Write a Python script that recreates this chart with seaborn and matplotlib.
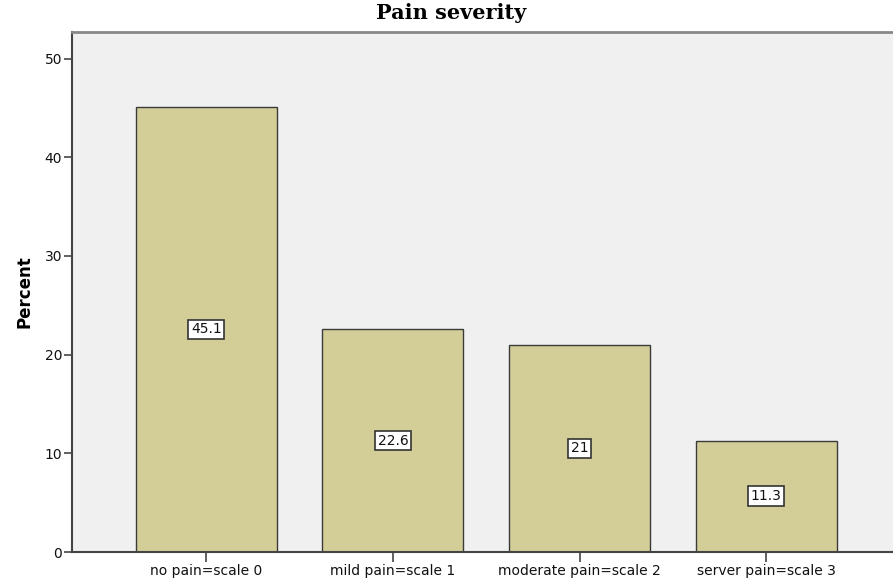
import matplotlib
matplotlib.use("Agg")
import matplotlib.pyplot as plt
import seaborn as sns
import pandas as pd

categories = ["no pain=scale 0", "mild pain=scale 1", "moderate pain=scale 2", "server pain=scale 3"]
percent = [45.1, 22.6, 21.0, 11.3]
bar_labels = ["45.1", "22.6", "21", "11.3"]
yticks = [0, 10, 20, 30, 40, 50]

df = pd.DataFrame({"category": categories, "percent": percent})

sns.set_theme(style="white")
plt.rcParams['font.family'] = ['DejaVu Sans']
plt.rcParams['text.color'] = 'black'
plt.rcParams['axes.labelcolor'] = 'black'
plt.rcParams['xtick.color'] = 'black'
plt.rcParams['ytick.color'] = 'black'

fig = plt.figure(figsize=(8.93, 5.79), dpi=100)
ax = fig.add_axes([72/893, 27/579, 1 - 72/893, (552-32)/579])
ax.set_facecolor("#f0f0f0")

sns.barplot(data=df, x="category", y="percent", color="#d3ce97", width=0.755,
            edgecolor="#3a3a3a", linewidth=1.0, saturation=1, ax=ax)

for i, (v, lab) in enumerate(zip(percent, bar_labels)):
    ax.text(i, v / 2, lab, ha="center", va="center", fontsize=10, color="#111111",
            bbox=dict(boxstyle="square,pad=0.2", facecolor="white", edgecolor="#333333", linewidth=1.2))

ax.set_xlim(-0.72, 3.68)
ax.set_ylim(0, 52.7)
ax.set_yticks(yticks)
ax.set_yticklabels([str(t) for t in yticks], fontsize=10)
ax.tick_params(axis="x", labelsize=10, length=7, width=1.2, color="#444444", labelcolor="#111111",
               direction="out", bottom=True, pad=2)
ax.tick_params(axis="y", length=6, width=1.2, color="#444444", labelcolor="#111111",
               direction="out", left=True, pad=1)
ax.set_xlabel("")
ax.set_ylabel("Percent", fontsize=12, fontweight="bold", labelpad=8, color="black")

for side in ["left", "bottom"]:
    ax.spines[side].set_color("#444444")
    ax.spines[side].set_linewidth(1.5)
ax.spines["top"].set_color("#888888")
ax.spines["top"].set_linewidth(2)
ax.spines["right"].set_visible(False)

fig.text(451/893, 1 - 13/579, "Pain severity", ha="center", va="center", color="black",
         fontsize=15, fontweight="bold", family=["DejaVu Serif"])

fig.savefig("out.png", dpi=100)
